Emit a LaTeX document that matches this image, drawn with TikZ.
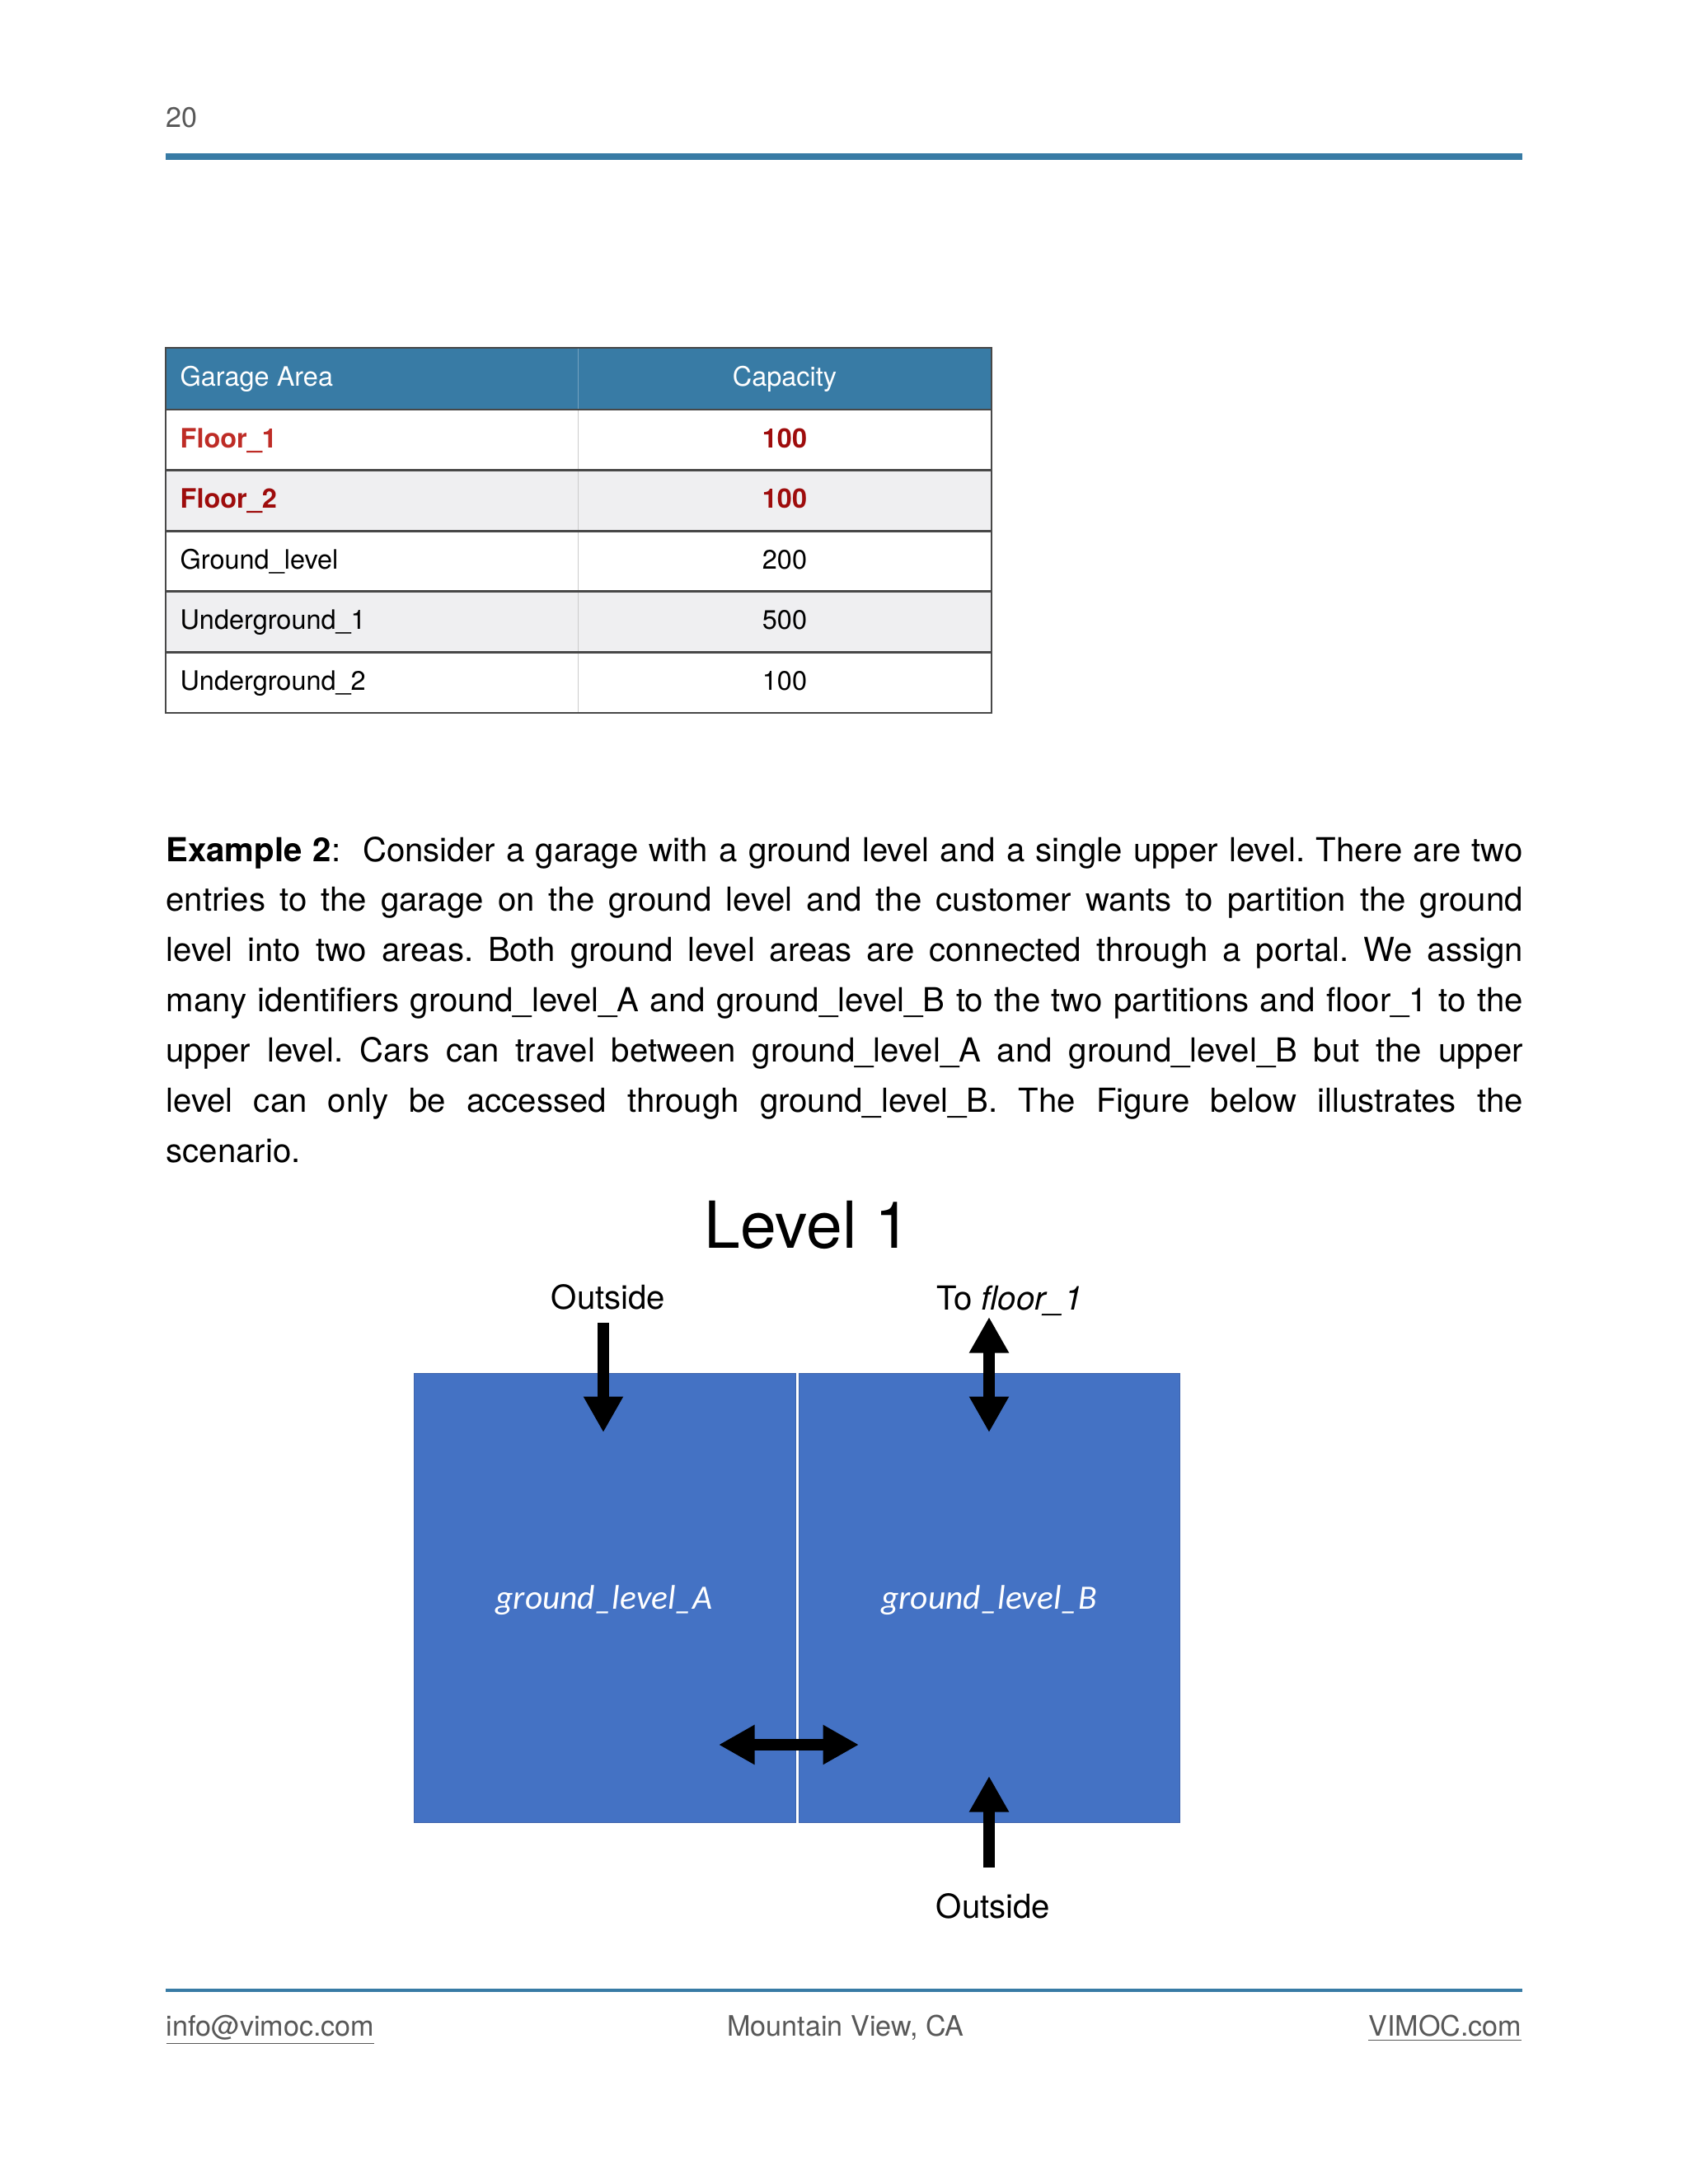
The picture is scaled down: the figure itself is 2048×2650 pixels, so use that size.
\documentclass[tikz,border=0pt]{standalone}
\usepackage{fontspec}
\setmainfont{TeX Gyre Heros}
\newfontfamily\calibrifont{Carlito}
\usetikzlibrary{arrows.meta}
\definecolor{steelblue}{RGB}{56,123,165}
\definecolor{rowgray}{RGB}{239,239,241}
\definecolor{rulegray}{RGB}{72,72,72}
\definecolor{floorred}{RGB}{190,44,38}
\definecolor{darkred}{RGB}{158,12,12}
\definecolor{officeblue}{RGB}{68,114,196}
\definecolor{edgeblue}{RGB}{62,100,172}
\definecolor{footgray}{RGB}{88,88,88}
\frenchspacing

\begin{document}
\begin{tikzpicture}[x=0.29883pt,y=-0.29883pt,
		cell/.style={inner sep=0pt,anchor=base,font=\fontsize{9.7}{12}\selectfont},
		bigarrow/.style={line width=4.2pt,-{Triangle[length=13pt,width=13.5pt]}},
		bothway/.style={line width=4.2pt,{Triangle[length=13pt,width=13.5pt]}-{Triangle[length=13pt,width=13.5pt]}},
		area/.style={fill=officeblue,draw=edgeblue,line width=0.3pt},
		arealabel/.style={anchor=base,text=white,font=\calibrifont\itshape\fontsize{12.4}{15}\selectfont},
		tag/.style={anchor=base,inner sep=0pt,font=\fontsize{12}{14}\selectfont},
		foot/.style={anchor=base,inner sep=0pt,text=footgray,font=\fontsize{10.2}{12}\selectfont}]
	\useasboundingbox[fill=white] (0,0) rectangle (2048,2650);
	% head of the page
	\node[foot,anchor=base west] (pagenum) at (201,154) {20};
	\draw[steelblue,line width=2.5pt] (201,190)--(1847,190);
	% table
	\fill[steelblue] (201,422) rectangle (1203,497);
	\foreach \y in {570.6,717.8}{\fill[rowgray] (201,\y) rectangle (1203,\y+73.6);}
	\draw[steelblue!70!white,line width=0.3pt] (701,422)--(701,497);
	\draw[gray!40,line width=0.3pt] (701,497)--(701,865);
	\foreach \y in {497,570.6,644.2,717.8,791.4}{\draw[rulegray,line width=0.8pt] (201,\y)--(1203,\y);}
	\draw[rulegray,line width=0.8pt] (201,422) rectangle (1203,865);
	\node[cell,anchor=base west,text=white] (headarea) at (218,468) {Garage Area};
	\node[cell,text=white] (headcap) at (952,468) {Capacity};
	\node[cell,anchor=base west,text=floorred,font=\fontsize{9.7}{12}\selectfont\bfseries] (area1) at (218,543) {Floor\_1};
	\node[cell,text=darkred,font=\fontsize{9.7}{12}\selectfont\bfseries] (cap1) at (952,543) {100};
	\node[cell,anchor=base west,text=darkred,font=\fontsize{9.7}{12}\selectfont\bfseries] (area2) at (218,616.4) {Floor\_2};
	\node[cell,text=darkred,font=\fontsize{9.7}{12}\selectfont\bfseries] (cap2) at (952,616.4) {100};
	\foreach \name/\cap [count=\i from 3] in {Ground\_level/200,Underground\_1/500,Underground\_2/100}{
		\node[cell,anchor=base west] (area\i) at (218,543+73.6*\i-73.6) {\name};
		\node[cell] (cap\i) at (952,543+73.6*\i-73.6) {\cap};
	}
	% text
	\node[anchor=base west,inner sep=0pt,text width=491.9pt,align=justify,font=\fontsize{12}{18.18}\selectfont] (para) at (201,1045)
		{\textbf{Example 2}:\ \ Consider a garage with a ground level and a single upper level. There are two\linebreak
		entries to the garage on the ground level and the customer wants to partition the ground\linebreak
		level into two areas. Both ground level areas are connected through a portal. We assign\linebreak
		many identifiers ground\_level\_A and ground\_level\_B to the two partitions and floor\_1 to the\linebreak
		upper level. Cars can travel between ground\_level\_A and ground\_level\_B but the upper\linebreak
		level can only be accessed through ground\_level\_B. The Figure below illustrates the\linebreak
		scenario.};
	% level 1
	\node[anchor=base,inner sep=0pt,font=\fontsize{23.5}{28}\selectfont] (title) at (980,1514) {Level 1};
	\node[tag] (outsideA) at (738,1588) {Outside};
	\node[tag] (upper) at (1225,1589) {To \textit{floor\_1}};
	\draw[area] (502,1666) rectangle (965,2211);
	\draw[area] (969,1666) rectangle (1431,2211);
	\node[arealabel] (gla) at (733,1952) {ground\_level\_A};
	\node[arealabel] (glb) at (1200,1952) {ground\_level\_B};
	\node[tag] (outsideB) at (1205,2327) {Outside};
	\coordinate (topA) at (732,1605);
	\coordinate (inA) at (732,1738);
	\coordinate (upB) at (1200,1598);
	\coordinate (downB) at (1200,1738);
	\coordinate (portA) at (872,2117);
	\coordinate (portB) at (1042,2117);
	\coordinate (outB) at (1200,2266);
	\coordinate (inB) at (1200,2155);
	\draw[bigarrow] (topA)--(inA);
	\draw[bothway] (upB)--(downB);
	\draw[bothway] (portA)--(portB);
	\draw[bigarrow] (outB)--(inB);
	% foot of the page
	\draw[steelblue,line width=1pt] (201,2415)--(1847,2415);
	\node[foot,anchor=base west] (mail) at (201,2470) {\underline{info@vimoc.com}};
	\node[foot] (town) at (1026,2470) {Mountain View, CA};
	\node[foot,anchor=base east] (site) at (1847,2470) {\underline{VIMOC.com}};
\end{tikzpicture}
\end{document}
